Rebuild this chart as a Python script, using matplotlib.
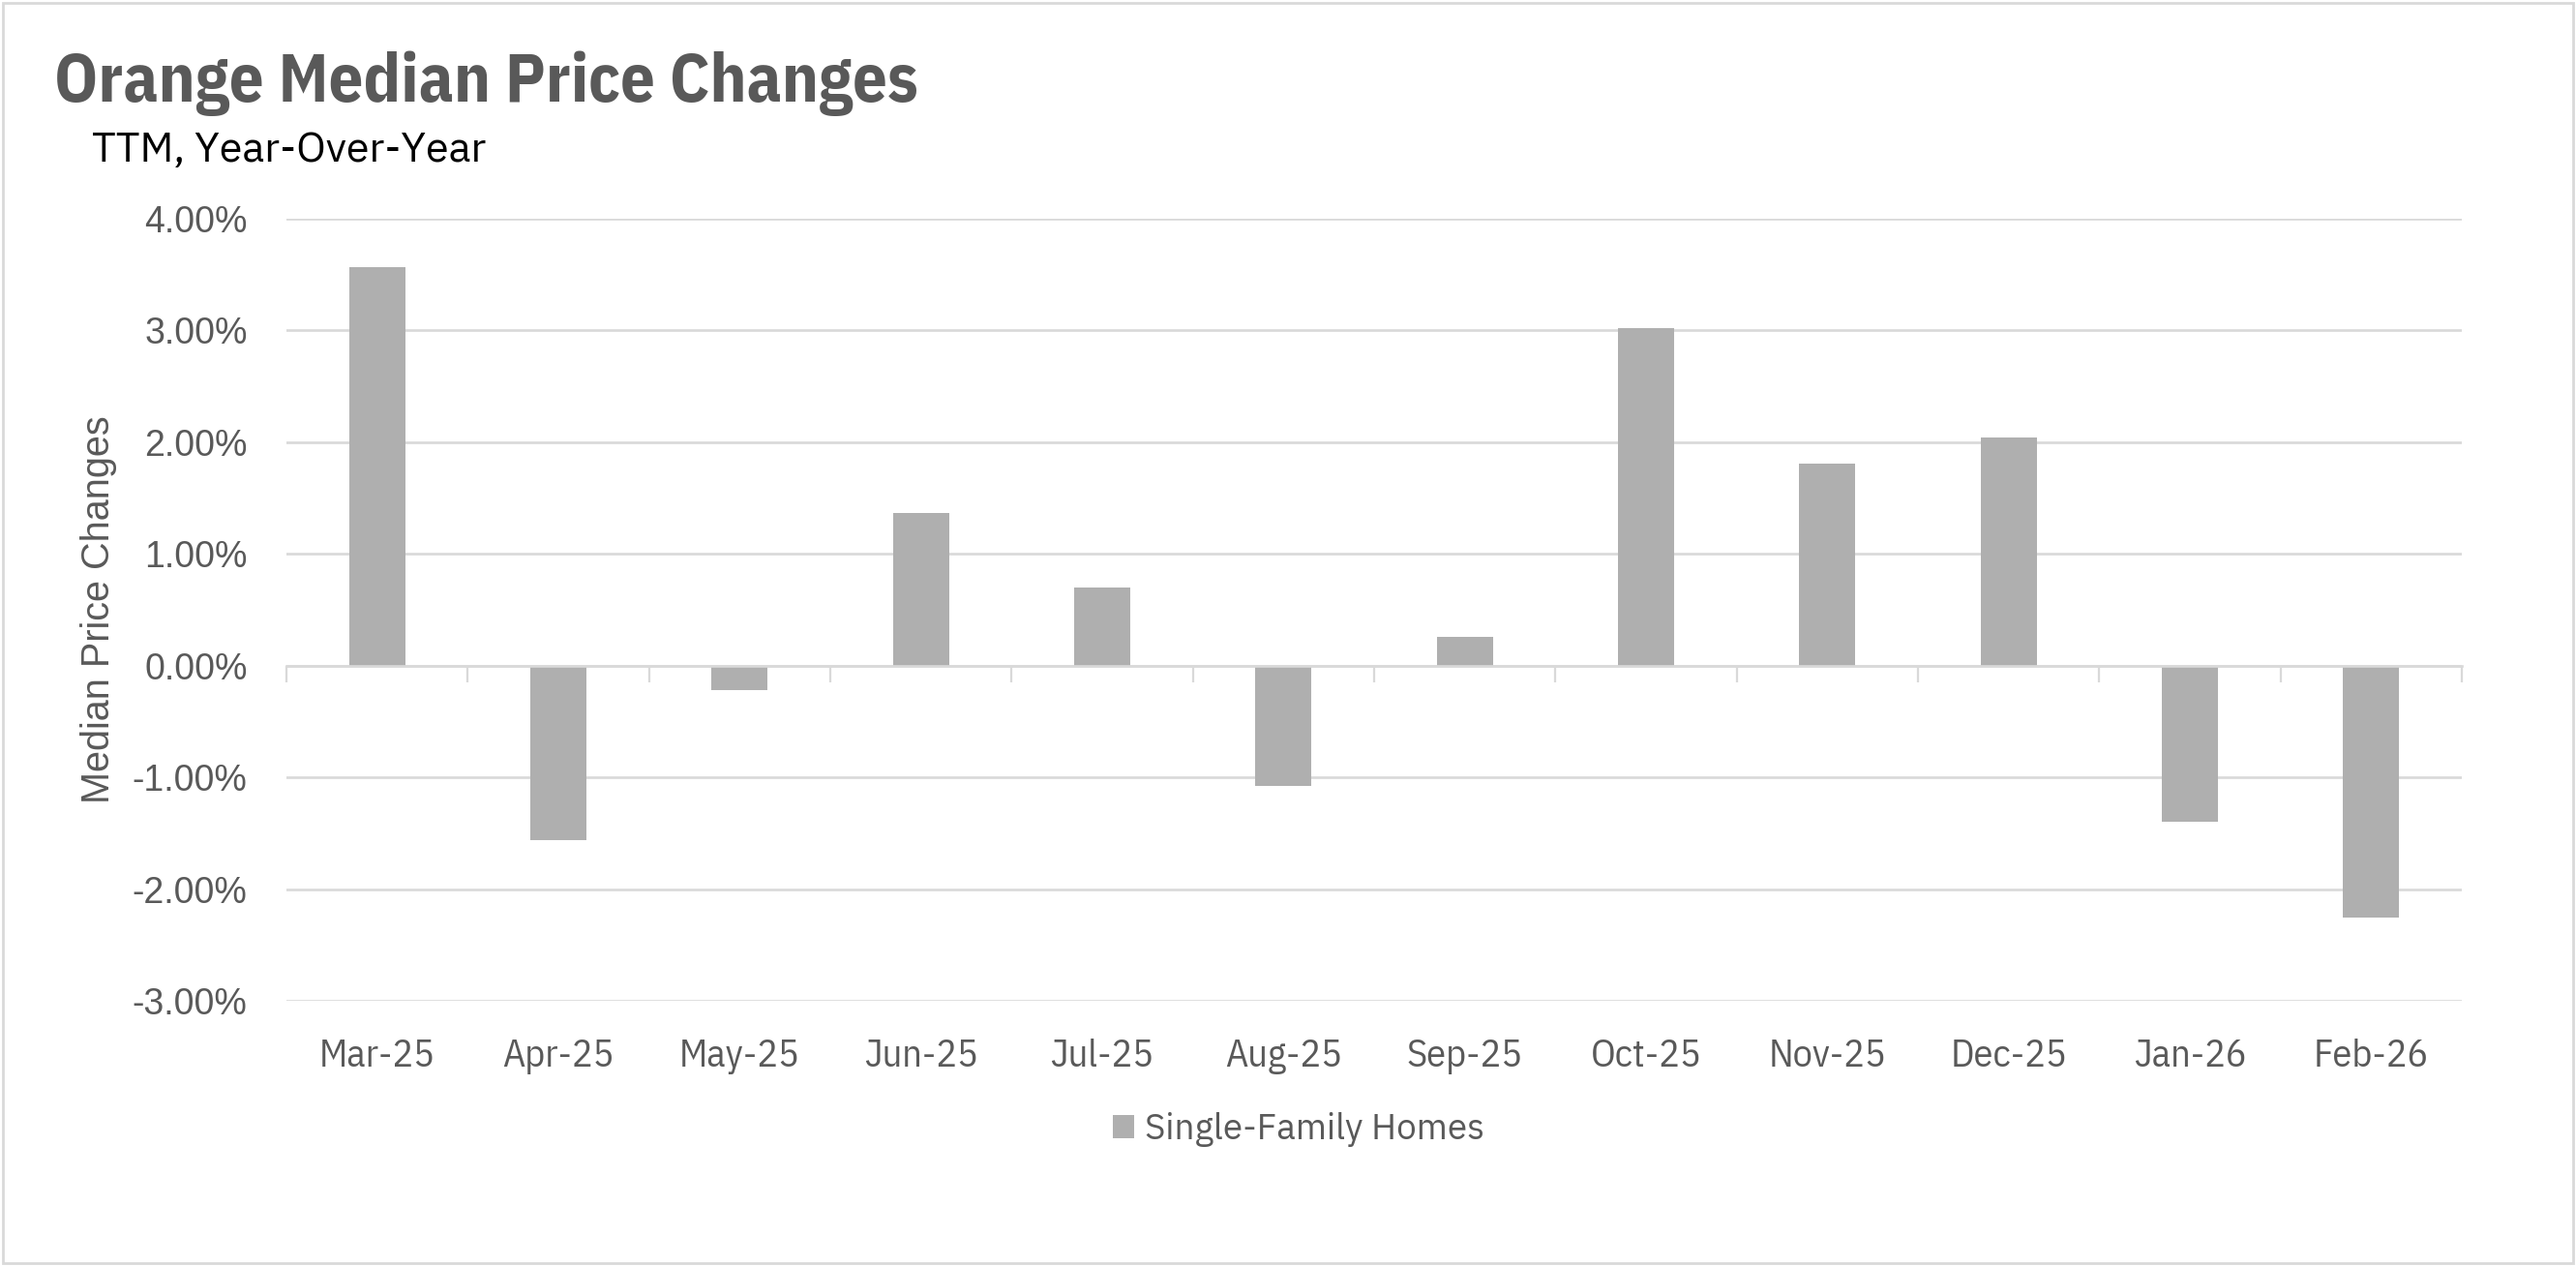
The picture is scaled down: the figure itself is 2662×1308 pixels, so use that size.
import matplotlib
matplotlib.use("Agg")
import matplotlib.pyplot as plt
from matplotlib import font_manager as fm
from matplotlib.patches import Rectangle
from matplotlib.ticker import FuncFormatter, MultipleLocator

# ── 数据 ──
months = ["Mar-25", "Apr-25", "May-25", "Jun-25", "Jul-25", "Aug-25",
          "Sep-25", "Oct-25", "Nov-25", "Dec-25", "Jan-26", "Feb-26"]
sfh_change = [3.565, -1.565, -0.215, 1.367, 0.703, -1.08,
              0.26, 3.02, 1.81, 2.046, -1.40, -2.255]
series_name = "Single-Family Homes"

names = {f.name for f in fm.fontManager.ttflist}


def pick(*cands):
    return next((n for n in cands if n in names), "DejaVu Sans")


plex = pick("IBM Plex Sans", "Noto Sans", "Open Sans")
plex_cond = pick("IBM Plex Sans Condensed", "Roboto Condensed", "IBM Plex Sans")
arial = pick("Liberation Sans", "Arial")

GREY_TXT = "#595959"
BAR = "#afafaf"
GRID = "#d9d9d9"

fig = plt.figure(figsize=(26.62, 13.08), dpi=100)
ax = fig.add_axes([296 / 2662, 1 - 1034 / 1308, 2248 / 2662, 808 / 1308])

x = list(range(len(months)))
ax.bar(x, sfh_change, width=0.31, color=BAR, label=series_name, zorder=2)

ax.set_ylim(-3, 4)
ax.set_xlim(-0.5, len(months) - 0.5)
ax.yaxis.set_major_locator(MultipleLocator(1))
ax.yaxis.set_major_formatter(FuncFormatter(lambda v, _: f"{v:.2f}%"))
ax.grid(axis="y", color=GRID, linewidth=1.9, zorder=0)
ax.tick_params(axis="y", length=0, pad=29, labelsize=27, labelcolor=GREY_TXT)
for lab in ax.get_yticklabels():
    lab.set_fontfamily(arial)

for side in ["top", "right", "left"]:
    ax.spines[side].set_visible(False)
# 零轴 + 类别分隔刻度
ax.spines["bottom"].set_position(("data", 0))
ax.spines["bottom"].set_color(GRID)
ax.spines["bottom"].set_linewidth(1.9)
ax.set_xticks([i - 0.5 for i in range(len(months) + 1)])
ax.tick_params(axis="x", length=12, width=1.6, color=GRID, labelbottom=False)

# 类别标签放在图底部
sec = ax.secondary_xaxis("bottom")
sec.set_xticks(x)
sec.set_xticklabels(months, fontfamily=plex_cond, fontsize=29, color=GREY_TXT)
sec.tick_params(length=0, pad=28)
sec.spines["bottom"].set_visible(False)

ax.set_ylabel("Median Price Changes", fontfamily=arial, fontsize=28.5,
              color=GREY_TXT)
ax.yaxis.set_label_coords(-0.078, 0.5)

fig.text(56 / 2662, 1 - 105 / 1308, "Orange Median Price Changes",
         fontfamily=plex_cond, fontweight="bold", fontsize=50.8, color=GREY_TXT)
fig.text(95 / 2662, 1 - 167 / 1308, "TTM, Year-Over-Year",
         fontfamily=plex, fontsize=31, color="black")

fig.legend(loc="center", bbox_to_anchor=(0.504, 1 - 1167 / 1308), frameon=False,
           prop={"family": plex, "size": 26.5}, labelcolor=GREY_TXT,
           handlelength=0.6, handleheight=0.6, handletextpad=0.3)

fig.patches.append(Rectangle((0.001, 0.002), 0.998, 0.996, transform=fig.transFigure,
                             fill=False, edgecolor=GRID, linewidth=2))

fig.savefig("out.png", dpi=100, facecolor="white")
